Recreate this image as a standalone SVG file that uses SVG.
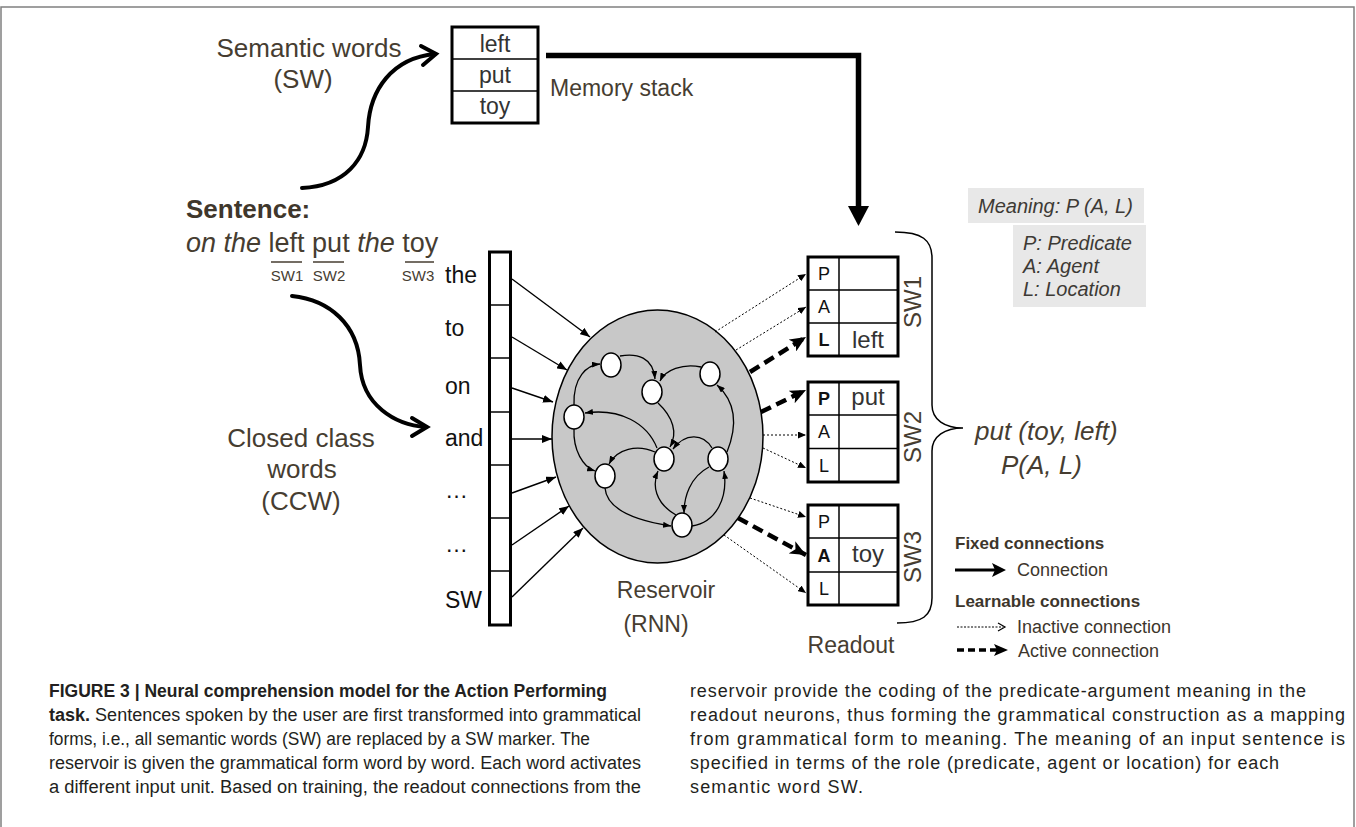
<svg xmlns="http://www.w3.org/2000/svg" width="1356" height="827" viewBox="0 0 1356 827">
<defs>
<style>
text{font-family:"Liberation Sans",Arial,sans-serif}
.lab{fill:#463d31;font-size:26px}
.lab23{fill:#463d31;font-size:23px}
.in{fill:#111;font-size:23px}
.pal{fill:#111;font-size:18px;text-anchor:middle}
.wd{fill:#333;font-size:24px;text-anchor:middle}
.swl{fill:#463d31;font-size:24px;text-anchor:middle}
.thin{fill:none;stroke:#000;stroke-width:1.4}
.edge{fill:none;stroke:#000;stroke-width:1.3}
.dot{fill:none;stroke:#000;stroke-width:1;stroke-dasharray:2 2}
.dash{fill:none;stroke:#000;stroke-width:4.5;stroke-dasharray:11 6}
.node{fill:#fff;stroke:#000;stroke-width:1.5}
.cell{fill:#fff;stroke:#000;stroke-width:3}
.rule{stroke:#000;stroke-width:1.5}
.cap{font-size:18px;fill:#231f20}
.leg{font-size:18px;fill:#3d362c}
.legb{font-size:17px;font-weight:bold;fill:#3d362c}
.mean{font-size:20px;font-style:italic;fill:#3d3a35}
.big{fill:none;stroke:#000;stroke-width:4;stroke-linecap:round}
</style>
<marker id="a" markerUnits="userSpaceOnUse" markerWidth="10" markerHeight="8" refX="10" refY="4" orient="auto"><path d="M0,0 L10,4 L0,8 z" fill="#000"/></marker>
<marker id="s" markerUnits="userSpaceOnUse" markerWidth="8" markerHeight="6" refX="8" refY="3" orient="auto"><path d="M0,0 L8,3 L0,6 z" fill="#000"/></marker>
<marker id="t" markerUnits="userSpaceOnUse" markerWidth="8" markerHeight="7" refX="8" refY="3.5" orient="auto"><path d="M0,0 L8,3.5 L0,7 z" fill="#000"/></marker>
<marker id="d" markerUnits="userSpaceOnUse" markerWidth="16" markerHeight="14" refX="16" refY="7" orient="auto"><path d="M0,0 L16,7 L0,14 L4,7 z" fill="#000"/></marker>
</defs>

<path d="M1,827 V7 H1354 V827" fill="none" stroke="#808080" stroke-width="1.5"/>

<g id="semantic-words">
<text class="lab" x="309" y="57" text-anchor="middle">Semantic words</text>
<text class="lab" x="303" y="88" text-anchor="middle">(SW)</text>
</g>

<g id="memory-stack">
<rect class="cell" x="452" y="27" width="86" height="96"/>
<line class="rule" x1="452" y1="59" x2="538" y2="59"/>
<line class="rule" x1="452" y1="91" x2="538" y2="91"/>
<text class="wd" x="495" y="52" style="font-size:23px">left</text>
<text class="wd" x="495" y="83" style="font-size:23px">put</text>
<text class="wd" x="495" y="114" style="font-size:23px">toy</text>
<text class="lab23" x="550" y="96">Memory stack</text>
</g>

<g id="sentence">
<text x="186" y="218" font-weight="bold" font-size="26" fill="#3f372c">Sentence:</text>
<text x="186" y="252" font-size="27" fill="#463d31"><tspan font-style="italic">on the </tspan>left put<tspan font-style="italic"> the </tspan>toy</text>
<g stroke="#463d31" stroke-width="1.5">
<line x1="271" y1="262" x2="302" y2="262"/>
<line x1="313" y1="262" x2="344" y2="262"/>
<line x1="405" y1="262" x2="434" y2="262"/>
</g>
<g font-size="15" fill="#463d31" text-anchor="middle">
<text x="287" y="281">SW1</text>
<text x="329" y="281">SW2</text>
<text x="418" y="281">SW3</text>
</g>
</g>

<g id="ccw">
<text class="lab" x="301" y="447" text-anchor="middle">Closed class</text>
<text class="lab" x="302" y="478" text-anchor="middle">words</text>
<text class="lab" x="301" y="510" text-anchor="middle">(CCW)</text>
</g>

<g id="input-layer">
<rect x="489.5" y="252" width="21" height="373" fill="#fff" stroke="#000" stroke-width="3"/>
<g class="rule">
<line x1="489.5" y1="305" x2="510.5" y2="305"/>
<line x1="489.5" y1="358" x2="510.5" y2="358"/>
<line x1="489.5" y1="412" x2="510.5" y2="412"/>
<line x1="489.5" y1="465" x2="510.5" y2="465"/>
<line x1="489.5" y1="518" x2="510.5" y2="518"/>
<line x1="489.5" y1="571" x2="510.5" y2="571"/>
</g>
<text class="in" x="445" y="283">the</text>
<text class="in" x="445" y="336">to</text>
<text class="in" x="445" y="394">on</text>
<text class="in" x="445" y="446">and</text>
<text class="in" x="445" y="498">…</text>
<text class="in" x="445" y="552">…</text>
<text class="in" x="445" y="608">SW</text>
</g>

<g id="reservoir">
<ellipse cx="657.5" cy="436.5" rx="105.5" ry="126.5" fill="#c8c8c8" stroke="#000" stroke-width="1.5"/>
<text class="lab23" x="666" y="598" text-anchor="middle">Reservoir</text>
<text class="lab23" x="656" y="632" text-anchor="middle">(RNN)</text>
</g>

<g id="connectors">
<path class="big" d="M302,188 C345,186 366,160 368,127 C370,90 392,58 435,54"/>
<path class="big" d="M421,46 L436,54 L423,65" stroke-linejoin="miter" stroke-linecap="butt"/>
<path class="big" d="M292,296 C330,300 358,325 360,365 C362,405 395,425 426,427"/>
<path class="big" d="M412,418 L427,427 L412,436" stroke-linejoin="miter" stroke-linecap="butt"/>
<path d="M546,55.5 H858.5 V208" fill="none" stroke="#000" stroke-width="5.5" stroke-linejoin="miter"/>
<polygon points="848,206 869,206 858.5,226" fill="#000"/>

<g class="thin">
<path d="M512,279 L590,337" marker-end="url(#a)"/>
<path d="M512,337 L567,370" marker-end="url(#a)"/>
<path d="M512,388 L553,402" marker-end="url(#a)"/>
<path d="M512,439 L552,439" marker-end="url(#a)"/>
<path d="M512,493 L556,477" marker-end="url(#a)"/>
<path d="M512,545 L569,506" marker-end="url(#a)"/>
<path d="M512,597 L583,528" marker-end="url(#a)"/>
</g>

<g class="edge">
<path d="M620,356 C637,353 653,357 655,379" marker-end="url(#s)"/>
<path d="M574,405 C573,377 587,365 600,364" marker-end="url(#s)"/>
<path d="M701,367 C683,363 665,370 660,381" marker-end="url(#s)"/>
<path d="M658,403 C673,417 678,433 670,447" marker-end="url(#s)"/>
<path d="M657,448 C647,423 620,408 585,413" marker-end="url(#s)"/>
<path d="M574,429 C573,450 583,467 595,471" marker-end="url(#s)"/>
<path d="M655,452 C637,444 617,449 609,464" marker-end="url(#s)"/>
<path d="M712,448 C703,433 685,433 673,449" marker-end="url(#s)"/>
<path d="M727,452 C737,427 737,403 717,385" marker-end="url(#s)"/>
<path d="M605,488 C607,513 645,522 671,526" marker-end="url(#s)"/>
<path d="M676,515 C655,503 652,485 658,471" marker-end="url(#s)"/>
<path d="M709,467 C690,477 684,497 684,513" marker-end="url(#s)"/>
<path d="M692,526 C717,522 728,497 724,471" marker-end="url(#s)"/>
</g>

<g class="dot">
<path d="M715,332 L806,274" marker-end="url(#t)"/>
<path d="M736,350 L806,307" marker-end="url(#t)"/>
<path d="M763,435 L806,435" marker-end="url(#t)"/>
<path d="M763,448 L806,468" marker-end="url(#t)"/>
<path d="M750,498 L806,517" marker-end="url(#t)"/>
<path d="M724,535 L806,593" marker-end="url(#t)"/>
</g>
<g class="dash">
<path d="M750,372 L806,337" marker-end="url(#d)"/>
<path d="M761,412 L806,390" marker-end="url(#d)"/>
<path d="M738,518 L806,555" marker-end="url(#d)"/>
</g>

<path d="M895,232 C922,232 932,240 932,258 L932,405 C932,420 945,428 963,428 C945,428 932,436 932,451 L932,598 C932,616 922,623 897,623" fill="none" stroke="#000" stroke-width="1.5"/>
</g>

<g id="n1"><ellipse class="node" cx="611" cy="365" rx="10" ry="12"/></g>
<g id="n2"><ellipse class="node" cx="652" cy="392" rx="10" ry="12"/></g>
<g id="n3"><ellipse class="node" cx="710" cy="374" rx="10" ry="12"/></g>
<g id="n4"><ellipse class="node" cx="574" cy="417" rx="10" ry="12"/></g>
<g id="n5"><ellipse class="node" cx="664" cy="459" rx="10" ry="12"/></g>
<g id="n6"><ellipse class="node" cx="718" cy="459" rx="10" ry="12"/></g>
<g id="n7"><ellipse class="node" cx="605" cy="476" rx="10" ry="12"/></g>
<g id="n8"><ellipse class="node" cx="682" cy="525" rx="10" ry="12"/></g>

<g id="readout-sw1">
<rect class="cell" x="808" y="257" width="90" height="99"/>
<line class="rule" x1="839" y1="257" x2="839" y2="356"/>
<line class="rule" x1="808" y1="290" x2="898" y2="290"/>
<line class="rule" x1="808" y1="323" x2="898" y2="323"/>
<text class="pal" x="824" y="280">P</text>
<text class="pal" x="824" y="313">A</text>
<text class="pal" x="824" y="346" font-weight="bold">L</text>
<text class="wd" x="868" y="348">left</text>
<text class="swl" transform="translate(921,302) rotate(-90)">SW1</text>
</g>

<g id="readout-sw2">
<rect class="cell" x="808" y="382" width="90" height="100"/>
<line class="rule" x1="839" y1="382" x2="839" y2="482"/>
<line class="rule" x1="808" y1="415" x2="898" y2="415"/>
<line class="rule" x1="808" y1="448.5" x2="898" y2="448.5"/>
<text class="pal" x="824" y="405" font-weight="bold">P</text>
<text class="pal" x="824" y="438">A</text>
<text class="pal" x="824" y="472">L</text>
<text class="wd" x="868" y="405">put</text>
<text class="swl" transform="translate(921,437) rotate(-90)">SW2</text>
</g>

<g id="readout-sw3">
<rect class="cell" x="808" y="505" width="90" height="100"/>
<line class="rule" x1="839" y1="505" x2="839" y2="605"/>
<line class="rule" x1="808" y1="538" x2="898" y2="538"/>
<line class="rule" x1="808" y1="572" x2="898" y2="572"/>
<text class="pal" x="824" y="528">P</text>
<text class="pal" x="824" y="562" font-weight="bold">A</text>
<text class="pal" x="824" y="595">L</text>
<text class="wd" x="868" y="562">toy</text>
<text class="swl" transform="translate(921,557) rotate(-90)">SW3</text>
</g>

<g id="readout-label">
<text class="lab23" x="851" y="653" text-anchor="middle">Readout</text>
</g>

<g id="meaning">
<rect x="968" y="188" width="176" height="35" fill="#e8e8e8"/>
<text class="mean" x="978" y="213">Meaning: P (A, L)</text>
<rect x="1013" y="225" width="133" height="82" fill="#e8e8e8"/>
<text class="mean" x="1023" y="250">P: Predicate</text>
<text class="mean" x="1023" y="273">A: Agent</text>
<text class="mean" x="1023" y="296">L: Location</text>
</g>

<g id="result">
<text x="975" y="440" font-size="26" font-style="italic" fill="#463d31">put (toy, left)</text>
<text x="1001" y="474" font-size="26" font-style="italic" fill="#463d31">P(A, L)</text>
</g>

<g id="legend">
<text class="legb" x="955" y="549">Fixed connections</text>
<line x1="955" y1="570" x2="996" y2="570" stroke="#000" stroke-width="3"/>
<polygon points="992,563 1006,570 992,577 995,570" fill="#000"/>
<text class="leg" x="1017" y="576">Connection</text>
<text class="legb" x="955" y="607">Learnable connections</text>
<line x1="957" y1="627" x2="1003" y2="627" stroke="#000" stroke-width="1" stroke-dasharray="2 1.5"/>
<path d="M998,623 L1005,627 L998,631" fill="none" stroke="#000" stroke-width="1.2"/>
<text class="leg" x="1017" y="633">Inactive connection</text>
<line x1="957" y1="650" x2="998" y2="650" stroke="#000" stroke-width="3.5" stroke-dasharray="7 4"/>
<polygon points="994,644 1008,650 994,656 997,650" fill="#000"/>
<text class="leg" x="1018" y="657">Active connection</text>
</g>

<g id="caption">
<text class="cap" x="49" y="697" font-weight="bold" textLength="558" lengthAdjust="spacingAndGlyphs">FIGURE 3 | Neural comprehension model for the Action Performing</text>
<text class="cap" x="49" y="721" textLength="592" lengthAdjust="spacingAndGlyphs"><tspan font-weight="bold">task.</tspan> Sentences spoken by the user are first transformed into grammatical</text>
<text class="cap" x="49" y="745" textLength="541" lengthAdjust="spacingAndGlyphs">forms, i.e., all semantic words (SW) are replaced by a SW marker. The</text>
<text class="cap" x="49" y="769" textLength="592" lengthAdjust="spacingAndGlyphs">reservoir is given the grammatical form word by word. Each word activates</text>
<text class="cap" x="49" y="793" textLength="592" lengthAdjust="spacingAndGlyphs">a different input unit. Based on training, the readout connections from the</text>
<text class="cap" x="690" y="697" textLength="616" lengthAdjust="spacing">reservoir provide the coding of the predicate-argument meaning in the</text>
<text class="cap" x="690" y="721" textLength="655" lengthAdjust="spacing">readout neurons, thus forming the grammatical construction as a mapping</text>
<text class="cap" x="690" y="745" textLength="655" lengthAdjust="spacing">from grammatical form to meaning. The meaning of an input sentence is</text>
<text class="cap" x="690" y="769" textLength="589" lengthAdjust="spacing">specified in terms of the role (predicate, agent or location) for each</text>
<text class="cap" x="690" y="793" textLength="173" lengthAdjust="spacing">semantic word SW.</text>
</g>
</svg>
